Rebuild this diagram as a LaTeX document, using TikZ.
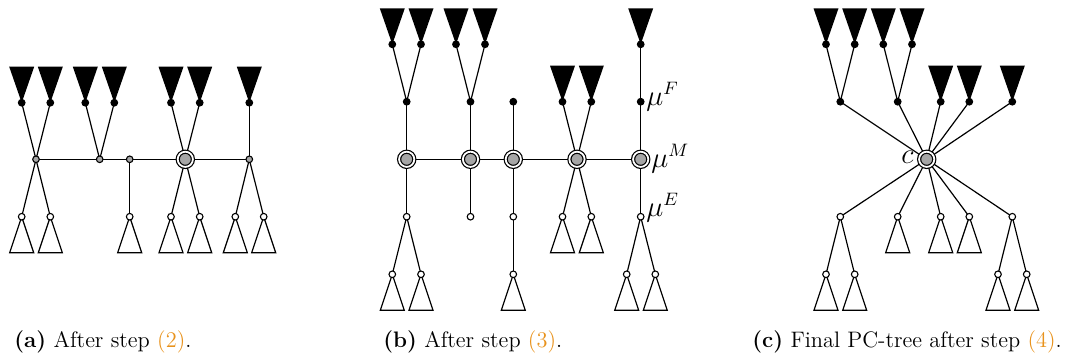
\documentclass[tikz,border=0pt]{standalone}
\usetikzlibrary{backgrounds}
\definecolor{pgray}{RGB}{166,166,166}
\definecolor{linkorange}{RGB}{232,146,28}
% leaf subtrees hanging above (filled) and below (outlined) a node
\newcommand\BlackTri[1]{\fill (#1.center) -- ++(-12.5,-36) -- ++(25,0) -- cycle;}
\newcommand\WhiteTri[1]{\draw[edge,fill=white] (#1.center) -- ++(-12,36) -- ++(24,0) -- cycle;}
\tikzset{
  edge/.style={line width=0.6pt},
  leafdot/.style={circle, fill=black, inner sep=0pt, minimum size=3.9pt},
  pnode/.style={circle, draw, line width=0.55pt, fill=pgray, inner sep=0pt, minimum size=3.3pt},
  enode/.style={circle, draw, line width=0.55pt, fill=white, inner sep=0pt, minimum size=3.3pt},
  cnode/.style={circle, draw, line width=0.6pt, fill=pgray, double=white, double distance=0.9pt, inner sep=0pt, minimum size=7.6pt},
  mlabel/.style={inner sep=0pt, font=\fontsize{13.5}{16}\selectfont},
  caption/.style={anchor=base west, inner sep=0pt, font=\fontsize{11.2}{13}\selectfont},
}
\begin{document}
\begin{tikzpicture}[x=0.5pt,y=-0.5pt]
\useasboundingbox (0,0) rectangle (1078,361);

% ---------------- (a) ----------------
\foreach \n/\x in {a1/21.7,a2/50.3,a3/85.3,a4/114.3,a5/171,a6/199.7,a7/249.3}
  \node[leafdot] (\n) at (\x,102.7) {};
\foreach \n/\x in {p1/36,p2/99.7,p3/129.7,p5/249.3}
  \node[pnode] (\n) at (\x,159.3) {};
\node[cnode] (p4) at (185.3,159.3) {};
\foreach \n/\x in {e1/21.7,e2/50.3,e3/129.7,e4/171,e5/199.7,e6/235.3,e7/263.7}
  \node[enode] (\n) at (\x,216.7) {};

% ---------------- (b) ----------------
\foreach \n/\x in {b1/392.3,b2/421,b3/456,b4/485,b5/640.7}
  \node[leafdot] (\n) at (\x,44.3) {};
\foreach \n/\x in {f1/406.7,f2/470.5,f3/513.3,g1/562.5,g2/591.3,f5/640.7}
  \node[leafdot] (\n) at (\x,101.7) {};
\foreach \n/\x in {m1/406.7,m2/470.5,m3/513.3,m4/577,m5/640.7}
  \node[cnode] (\n) at (\x,159.3) {};
\foreach \n/\x in {w1/406.7,w2/470.5,w3/513.3,w4/562.5,w5/591.3,w6/640.7}
  \node[enode] (\n) at (\x,216.7) {};
\foreach \n/\x in {x1/392.3,x2/421,x3/513.3,x4/626.7,x5/655.3}
  \node[enode] (\n) at (\x,274.3) {};
\node[mlabel, anchor=base west] (muF) at (646,105) {$\mu^F$};
\node[mlabel, anchor=base west] (muM) at (651,167) {$\mu^M$};
\node[mlabel, anchor=base west] (muE) at (646,216) {$\mu^E$};

% ---------------- (c) ----------------
\foreach \n/\x in {t1/826,t2/854.7,t3/883.3,t4/912}
  \node[leafdot] (\n) at (\x,44.3) {};
\foreach \n/\x in {k1/840.3,k2/897.7,k3/940.7,k4/969.3,k5/1012.3}
  \node[leafdot] (\n) at (\x,101.7) {};
\node[cnode] (cc) at (926.7,159.3) {};
\foreach \n/\x in {y1/840.3,y2/897.7,y3/940.7,y4/969.3,y5/1012.3}
  \node[enode] (\n) at (\x,216.7) {};
\foreach \n/\x in {z1/826,z2/854.7,z3/998,z4/1026.7}
  \node[enode] (\n) at (\x,274.3) {};
\node[mlabel, anchor=base east] (clab) at (914,163.5) {$c$};

% ---------------- edges and subtrees ----------------
\begin{pgfonlayer}{background}
  % (a)
  \foreach \s/\t in {a1/p1,a2/p1,p1/e1,p1/e2,a3/p2,a4/p2,p3/e3,a5/p4,a6/p4,p4/e4,p4/e5,a7/p5,p5/e6,p5/e7}
    \draw[edge] (\s.center) -- (\t.center);
  \draw[edge] (p1.center) -- (p2.center) -- (p3.center) -- (p4.center) -- (p5.center);
  \foreach \n in {a1,a2,a3,a4,a5,a6,a7} {\BlackTri{\n}}
  \foreach \n in {e1,e2,e3,e4,e5,e6,e7} {\WhiteTri{\n}}
  % (b)
  \foreach \s/\t in {b1/f1,b2/f1,f1/m1,b3/f2,b4/f2,f2/m2,f3/m3,g1/m4,g2/m4,b5/f5,f5/m5,m1/w1,w1/x1,w1/x2,m2/w2,m3/w3,w3/x3,m4/w4,m4/w5,m5/w6,w6/x4,w6/x5}
    \draw[edge] (\s.center) -- (\t.center);
  \draw[edge] (m1.center) -- (m2.center) -- (m3.center) -- (m4.center) -- (m5.center);
  \foreach \n in {b1,b2,b3,b4,b5,g1,g2} {\BlackTri{\n}}
  \foreach \n in {w4,w5,x1,x2,x3,x4,x5} {\WhiteTri{\n}}
  % (c)
  \foreach \s/\t in {t1/k1,t2/k1,t3/k2,t4/k2,k1/cc,k2/cc,k3/cc,k4/cc,k5/cc,cc/y1,cc/y2,cc/y3,cc/y4,cc/y5,y1/z1,y1/z2,y5/z3,y5/z4}
    \draw[edge] (\s.center) -- (\t.center);
  \foreach \n in {t1,t2,t3,t4,k3,k4,k5} {\BlackTri{\n}}
  \foreach \n in {y2,y3,y4,z1,z2,z3,z4} {\WhiteTri{\n}}
\end{pgfonlayer}

% ---------------- captions ----------------
\node[caption] (capa) at (14,347) {\textbf{(a)} After step \textcolor{linkorange}{(2)}.};
\node[caption] (capb) at (383,347) {\textbf{(b)} After step \textcolor{linkorange}{(3)}.};
\node[caption] (capc) at (752,347) {\textbf{(c)} Final PC-tree after step \textcolor{linkorange}{(4)}.};
\end{tikzpicture}
\end{document}
